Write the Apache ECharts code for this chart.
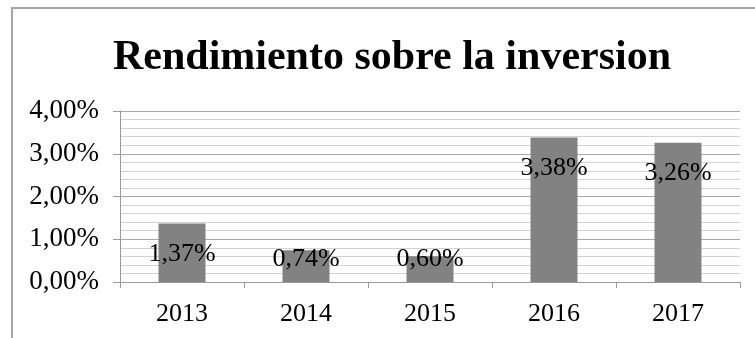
<!DOCTYPE html>
<html>
<head>
<meta charset="utf-8">
<script src="https://cdn.jsdelivr.net/npm/echarts@6/dist/echarts.min.js"></script>
<style>
  html, body { margin: 0; padding: 0; background: #fff; }
  #chart { width: 755px; height: 338px; }
</style>
</head>
<body>
<div id="chart"></div>
<script>
// Return on investment by year, in percent
const years = ['2013', '2014', '2015', '2016', '2017'];
const returns = [1.37, 0.74, 0.60, 3.38, 3.26];
const yTicks = [0, 1, 2, 3, 4];

const serif = '"Liberation Serif", "DejaVu Serif", serif';
const fmtPct = v => v.toFixed(2).replace('.', ',') + '%';

// Tall bars carry their label near the top; short ones just above the base.
const barData = returns.map(v => ({
  value: v,
  label: v >= 1
    ? { position: 'insideTop', distance: 18 }
    : { position: 'insideBottom', distance: 10 }
}));

const chart = echarts.init(document.getElementById('chart'), null, { renderer: 'canvas' });
chart.setOption({
  animation: false,
  backgroundColor: '#ffffff',
  grid: { left: 120, right: 15, top: 111, bottom: 56, containLabel: false },
  graphic: [
    {
      type: 'rect',
      shape: { x: 12, y: 8, width: 800, height: 400 },
      style: { fill: 'none', stroke: '#a6a6a6', lineWidth: 2 },
      silent: true
    },
    {
      type: 'text',
      x: 392, y: 58,
      style: {
        text: 'Rendimiento sobre la inversion',
        font: 'bold 42px ' + serif,
        fill: '#000',
        textAlign: 'center',
        textVerticalAlign: 'middle'
      }
    }
  ],
  xAxis: {
    type: 'category',
    data: years,
    axisLine: { show: true, lineStyle: { color: '#9a9a9a', width: 1 } },
    axisTick: { show: true, alignWithLabel: false, length: 6, lineStyle: { color: '#9a9a9a' } },
    axisLabel: { color: '#000', fontFamily: serif, fontSize: 26, margin: 19 }
  },
  yAxis: {
    type: 'value',
    min: yTicks[0],
    max: yTicks[yTicks.length - 1],
    interval: 1,
    axisLine: { show: true, lineStyle: { color: '#9a9a9a', width: 1 } },
    axisTick: { show: true, length: 7, lineStyle: { color: '#9a9a9a' } },
    axisLabel: { color: '#000', fontFamily: serif, fontSize: 27, margin: 21, formatter: v => fmtPct(v) },
    splitLine: { show: true, lineStyle: { color: '#a8a8a8', width: 1 } },
    minorTick: { show: false, splitNumber: 5 },
    minorSplitLine: { show: true, lineStyle: { color: '#d2d2d2', width: 1 } }
  },
  series: [{
    type: 'bar',
    data: barData,
    barWidth: 47,
    itemStyle: { color: '#828282' },
    label: {
      show: true,
      color: '#000',
      fontFamily: serif,
      fontSize: 26,
      formatter: p => fmtPct(p.value)
    }
  }]
});
</script>
</body>
</html>
